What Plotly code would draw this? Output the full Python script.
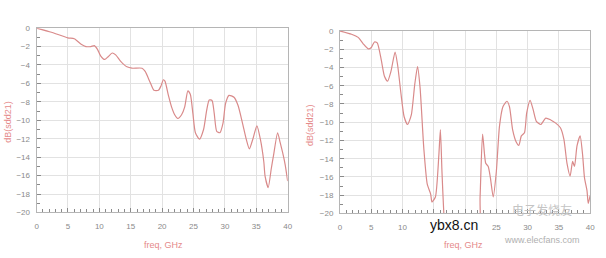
import plotly.graph_objects as go

# Left chart: dB(sdd21) vs frequency (GHz)
freq_left = [0, 2.36, 4.98, 6.0, 7.1, 7.86, 8.65, 9.2, 9.7, 10.2, 10.85, 11.4, 12.05, 12.6, 13.4,
             14.4, 15.2, 16.8, 17.3, 18.1, 18.7, 19.4, 19.8, 20.2, 20.45, 21.0, 21.5, 22.0, 22.5,
             23.1, 23.6, 24.1, 24.5, 24.9, 25.3, 25.95, 26.6, 27.1, 27.5, 27.95, 28.3, 28.7, 29.2,
             29.7, 30.1, 30.65, 31.45, 32.1, 32.8, 33.4, 33.9, 34.45, 35.1, 35.65, 36.2, 36.4,
             36.9, 37.4, 37.75, 38.4, 38.8, 39.3, 39.6, 40]
db_left = [0, -0.45, -1.05, -1.15, -1.75, -2.0, -2.0, -1.9, -2.3, -3.0, -3.4, -3.1, -2.7, -2.9, -3.6,
           -4.2, -4.35, -4.35, -4.7, -5.9, -6.75, -6.75, -6.3, -5.6, -5.75, -7.3, -8.55, -9.4, -9.8,
           -9.4, -8.55, -6.8, -7.2, -9.25, -11.35, -12.05, -11.0, -8.9, -7.8, -7.85, -9.25, -11.2,
           -11.35, -10.3, -8.2, -7.3, -7.5, -8.4, -10.3, -12.05, -13.1, -12.05, -10.6, -12.05,
           -14.5, -16.05, -17.3, -15.2, -13.8, -11.35, -12.4, -13.8, -14.8, -16.6]

# Right chart
freq_right = [0, 1.84, 2.9, 3.7, 4.5, 5.0, 5.5, 5.95, 6.6, 7.1, 7.6, 8.15, 8.8, 9.2, 9.75, 10.25,
              10.8, 11.4, 11.95, 12.4, 12.8, 13.4, 13.95, 14.5, 14.7, 15.25, 15.8, 16.05, 16.3,
              16.6, 17.0, 22.0, 22.4, 22.8, 23.3, 23.7, 24.05, 24.5, 25.0, 25.5, 26.05, 26.7,
              27.1, 27.6, 28.2, 28.6, 29.0, 29.5, 29.85, 30.4, 30.9, 31.4, 32.1, 32.9, 33.7,
              34.5, 35.25, 35.8, 36.3, 36.8, 37.2, 37.5, 37.9, 38.4, 38.8, 39.1, 39.5, 39.7, 40]
db_right = [0, -0.35, -0.7, -1.4, -1.95, -1.8, -1.2, -1.3, -3.2, -4.95, -5.5, -4.4, -2.3, -3.7,
            -6.9, -9.4, -10.25, -9.2, -5.85, -3.9, -6.2, -12.9, -16.8, -17.9, -18.75, -18.2,
            -13.65, -10.8, -15.4, -20.0, -24.0, -24.0, -18.2, -11.3, -14.5, -14.85, -16.1, -18.2,
            -15.4, -10.45, -8.3, -7.7, -8.3, -10.8, -12.2, -12.55, -11.5, -11.15, -9.0, -7.6,
            -8.65, -9.9, -10.25, -9.55, -9.75, -10.1, -10.6, -11.85, -14.5, -15.9, -14.3,
            -14.85, -12.6, -11.5, -13.6, -16.1, -17.5, -18.9, -18.05]

x_ticks = [0, 5, 10, 15, 20, 25, 30, 35, 40]
x_ticktext_left = ["0", "5", "10", "15", "20", "25", "30", "35", "40"]
# labels 15 and 20 are hidden under the watermark in the right chart
x_ticktext_right = ["0", "5", "10", "", "", "25", "30", "35", "40"]
y_ticks = [0, -2, -4, -6, -8, -10, -12, -14, -16, -18, -20]

W, H = 606, 258
line_color = "#d98a8a"
label_color = "#e58a8a"
tick_color = "#8a8a8a"
grid_color = "#e2e2e2"
frame_color = "#b5b5b5"

fig = go.Figure()
fig.add_trace(go.Scatter(x=freq_left, y=db_left, mode="lines",
                         line=dict(color=line_color, width=1.2, shape="spline", smoothing=0.6),
                         xaxis="x", yaxis="y", showlegend=False))
fig.add_trace(go.Scatter(x=freq_right, y=db_right, mode="lines",
                         line=dict(color=line_color, width=1.2, shape="spline", smoothing=0.6),
                         xaxis="x2", yaxis="y2", showlegend=False))

def xaxis(domain, anchor, ticktext):
    return dict(domain=domain, anchor=anchor, range=[0, 40], tickvals=x_ticks, ticktext=ticktext,
                ticks="inside", ticklen=4, tickcolor=tick_color, ticklabelstandoff=6,
                minor=dict(dtick=1, ticks="inside", ticklen=3, tickcolor=tick_color, showgrid=False),
                showgrid=True, gridcolor=grid_color, gridwidth=1,
                showline=True, linecolor=frame_color, linewidth=1, mirror=True,
                zeroline=False, tickfont=dict(family="Liberation Sans", size=8, color=tick_color))

def yaxis(domain, anchor):
    return dict(domain=domain, anchor=anchor, range=[-20, 0], tickvals=y_ticks,
                ticks="inside", ticklen=4, tickcolor=tick_color, ticklabelstandoff=4,
                minor=dict(dtick=1, ticks="inside", ticklen=3, tickcolor=tick_color, showgrid=False),
                showgrid=True, gridcolor=grid_color, gridwidth=1,
                showline=True, linecolor=frame_color, linewidth=1, mirror=True,
                zeroline=False, tickfont=dict(family="Liberation Sans", size=8, color=tick_color))

fig.update_layout(
    width=W, height=H, margin=dict(l=0, r=0, t=0, b=0),
    paper_bgcolor="white", plot_bgcolor="white",
    xaxis=xaxis([35 / W, 289 / W], "y", x_ticktext_left),
    yaxis=yaxis([1 - 216 / H, 1 - 25 / H], "x"),
    xaxis2=xaxis([342 / W, 595 / W], "y2", x_ticktext_right),
    yaxis2=yaxis([1 - 217 / H, 1 - 28 / H], "x2"),
)

def ann(text, x, y, size, color, angle=0, family="Liberation Sans"):
    fig.add_annotation(text=text, x=x / W, y=1 - y / H, xref="paper", yref="paper",
                       showarrow=False, textangle=angle,
                       font=dict(family=family, size=size, color=color),
                       xanchor="center", yanchor="middle")

ann("freq, GHz", 163, 250, 9, label_color)
ann("freq, GHz", 467, 250, 9, label_color)
ann("dB(sdd21)", 6, 122, 9, label_color, angle=-90)
ann("dB(sdd21)", 311, 125, 9, label_color, angle=-90)

# Watermarks
ann("ybx8.cn", 457, 229, 14, "#111111")
ann("电子发烧友", 546, 213, 12, "#c4c4c4", family="Noto Sans CJK SC")
ann("www.elecfans.com", 546, 245, 9, "#b0b0b0")

fig.write_html("out.html")
